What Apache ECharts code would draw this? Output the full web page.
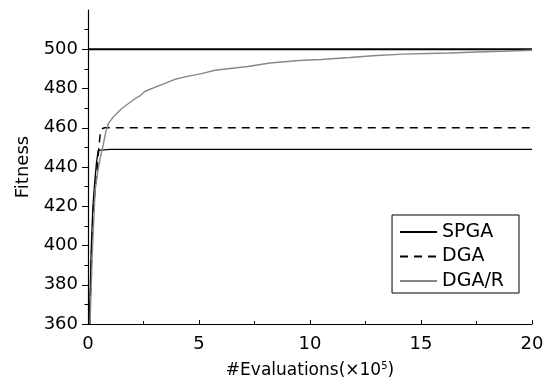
<!DOCTYPE html>
<html>
<head>
<meta charset="utf-8">
<script src="https://cdn.jsdelivr.net/npm/echarts@6/dist/echarts.min.js"></script>
<style>
  html, body { margin: 0; padding: 0; background: #fff; }
  #chart { width: 551px; height: 390px; }
</style>
</head>
<body>
<div id="chart"></div>
<script>
// fitness vs evaluations (x in units of 1e5)
const yTicks = [360, 380, 400, 420, 440, 460, 480, 500];
const xTicks = [0, 5, 10, 15, 20];
const optimum = 500;

const spgaX = [0.06, 0.15, 0.22, 0.30, 0.38, 0.46, 0.55, 1, 5, 10, 15, 20];
const spgaY = [360, 400, 420, 432, 442, 448.5, 449, 449, 449, 449, 449, 449];

const dgaX = [0.08, 0.17, 0.24, 0.32, 0.39, 0.47, 0.54, 0.62, 0.75, 1, 5, 10, 15, 20];
const dgaY = [360, 400, 418, 428, 436, 447, 456, 459.5, 460, 460, 460, 460, 460, 460];

const drX = [0.09, 0.2, 0.32, 0.43, 0.54, 0.69, 0.8, 0.92, 1.14, 1.52, 2.12, 2.34, 2.57, 3.32, 3.92,
  4.37, 5.12, 5.72, 6.5, 7.2, 8.2, 9.5, 10.5, 11.8, 13, 14.2, 15.3, 16.3, 17.5, 18.7, 20];
const drY = [360, 398, 428, 437, 444, 451.5, 457.9, 462.2, 465.5, 469.8, 474.8, 476.2, 478.6, 482, 484.7,
  485.9, 487.6, 489.3, 490.3, 491.2, 493, 494.3, 494.8, 495.8, 496.8, 497.5, 497.8, 498.1, 498.6, 499, 499.5];

const zip = (xs, ys) => xs.map((x, i) => [x, ys[i]]);
const font = 'DejaVu Sans';

const chart = echarts.init(document.getElementById('chart'));
chart.setOption({
  animation: false,
  textStyle: { fontFamily: font, color: '#000' },
  grid: { left: 88, right: 19, top: 10, bottom: 66 },
  legend: {
    data: ['SPGA', 'DGA', 'DGA/R'],
    orient: 'vertical',
    align: 'left',
    right: 32,
    top: 215,
    borderColor: '#000',
    borderWidth: 1,
    borderRadius: 0,
    padding: [7, 15, 2, 7],
    itemWidth: 37,
    itemHeight: 14,
    itemGap: 4.5,
    itemStyle: { opacity: 0 },
    textStyle: { fontFamily: font, fontSize: 19, lineHeight: 20, color: '#000' }
  },
  xAxis: {
    type: 'value',
    min: 0,
    max: 20,
    interval: 5,
    name: '#Evaluations(×10{sup|5})',
    nameLocation: 'middle',
    nameGap: 37,
    nameTextStyle: {
      fontFamily: font, fontSize: 17, color: '#000',
      rich: { sup: { fontFamily: font, fontSize: 10, padding: [0, 0, 9, 0], color: '#000' } }
    },
    axisLine: { lineStyle: { color: '#000', width: 1.2 } },
    axisTick: { inside: true, length: 4, lineStyle: { color: '#000' } },
    minorTick: { show: true, splitNumber: 2, length: 3, lineStyle: { color: '#000' } },
    axisLabel: {
      margin: 11, fontSize: 18, color: '#000', fontFamily: font,
      customValues: xTicks
    },
    splitLine: { show: false }
  },
  yAxis: {
    type: 'value',
    min: 360,
    max: 520,
    interval: 20,
    name: 'Fitness',
    nameLocation: 'middle',
    nameGap: 50,
    nameTextStyle: { fontFamily: font, fontSize: 18, color: '#000' },
    axisLine: { show: true, lineStyle: { color: '#000', width: 1.2 } },
    axisTick: { show: true, length: 6, lineStyle: { color: '#000' }, customValues: yTicks },
    minorTick: { show: true, splitNumber: 2, length: 3.5, lineStyle: { color: '#000' } },
    axisLabel: { margin: 10, fontSize: 18, color: '#000', fontFamily: font, customValues: yTicks },
    splitLine: { show: false }
  },
  series: [
    {
      name: 'Optimum',
      type: 'line',
      data: [[0, optimum], [20, optimum]],
      symbol: 'none',
      lineStyle: { color: '#000', width: 2 },
      markLine: {
        silent: true,
        symbol: 'none',
        lineStyle: { opacity: 0 },
        data: [{ yAxis: optimum }],
        label: {
          position: 'insideStartTop',
          formatter: 'Optimum',
          distance: [16, 7],
          fontFamily: font,
          fontSize: 18,
          color: '#000'
        }
      }
    },
    {
      name: 'SPGA',
      type: 'line',
      data: zip(spgaX, spgaY),
      symbol: 'none',
      color: '#000',
      lineStyle: { color: '#000', width: 1.3 }
    },
    {
      name: 'DGA',
      type: 'line',
      data: zip(dgaX, dgaY),
      symbol: 'none',
      color: '#000',
      lineStyle: { color: '#000', width: 1.5, type: [8, 6] }
    },
    {
      name: 'DGA/R',
      type: 'line',
      data: zip(drX, drY),
      symbol: 'none',
      color: '#888',
      lineStyle: { color: '#888', width: 1.4 }
    }
  ]
});
</script>
</body>
</html>
